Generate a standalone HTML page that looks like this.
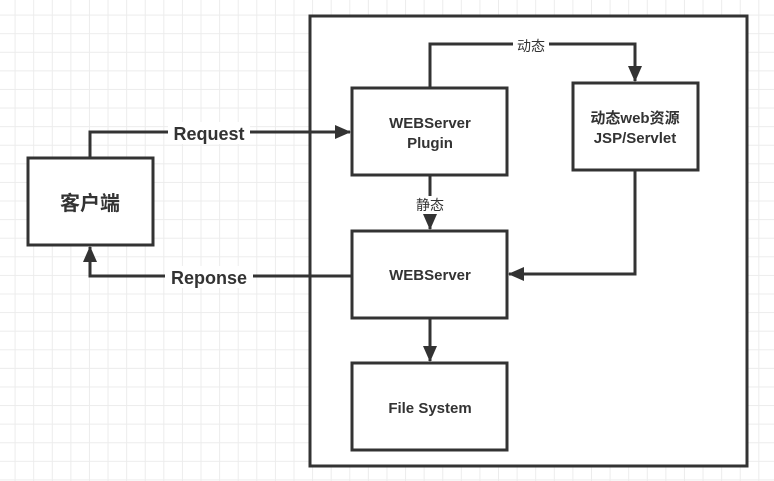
<!DOCTYPE html>
<html><head><meta charset="utf-8"><style>
html,body{margin:0;padding:0;}
body{width:774px;height:481px;overflow:hidden;background:#fff;
background-image:linear-gradient(#ececec 1px,transparent 1px),linear-gradient(90deg,#ececec 1px,transparent 1px);
background-size:18.6px 18.6px;background-position:-4px -4px;}
</style></head><body>
<svg width="774" height="481" style="position:absolute;left:0;top:0" font-family="Liberation Sans, Noto Sans CJK SC, sans-serif" font-weight="bold" fill="#333">
<defs>
<marker id="b" markerWidth="16" markerHeight="14" refX="15" refY="7" orient="auto" markerUnits="userSpaceOnUse"><path d="M0,0 L16,7 L0,14 z" fill="#333"/></marker></defs>
<g stroke="#333" stroke-width="3" fill="#fff">
<rect x="310" y="16" width="437" height="450"/>
<rect x="28" y="158" width="125" height="87"/>
<rect x="352" y="88" width="155" height="87"/>
<rect x="573" y="83" width="125" height="87"/>
<rect x="352" y="231" width="155" height="87"/>
<rect x="352" y="363" width="155" height="87"/>
</g>
<g stroke="#333" stroke-width="3" fill="none">
<path d="M90,158 V132 H350" marker-end="url(#b)"/>
<path d="M352,276 H90 V247" marker-end="url(#b)"/>
<path d="M430,88 V44 H635 V81" marker-end="url(#b)"/>
<path d="M430,175 V229" marker-end="url(#b)"/>
<path d="M635,170 V274 H509" marker-end="url(#b)"/>
<path d="M430,318 V361" marker-end="url(#b)"/>
</g>
<g fill="#fff"><rect x="168" y="122" width="82" height="22"/><rect x="165" y="266" width="88" height="22"/><rect x="513" y="36" width="36" height="18"/><rect x="412" y="196" width="36" height="18"/></g>
<text x="209" y="140" font-size="18" text-anchor="middle">Request</text>
<text x="209" y="284" font-size="18" text-anchor="middle">Reponse</text>
<text x="531" y="51" font-size="14" font-weight="normal" text-anchor="middle">动态</text>
<text x="430" y="210" font-size="14" font-weight="normal" text-anchor="middle">静态</text>
<text x="90" y="210" font-size="20" text-anchor="middle">客户端</text>
<g font-size="15" text-anchor="middle">
<text x="430" y="128">WEBServer</text><text x="430" y="148">Plugin</text>
<text x="635" y="123">动态web资源</text><text x="635" y="143">JSP/Servlet</text>
<text x="430" y="280">WEBServer</text>
<text x="430" y="413">File System</text>
</g>
</svg>
</body></html>
